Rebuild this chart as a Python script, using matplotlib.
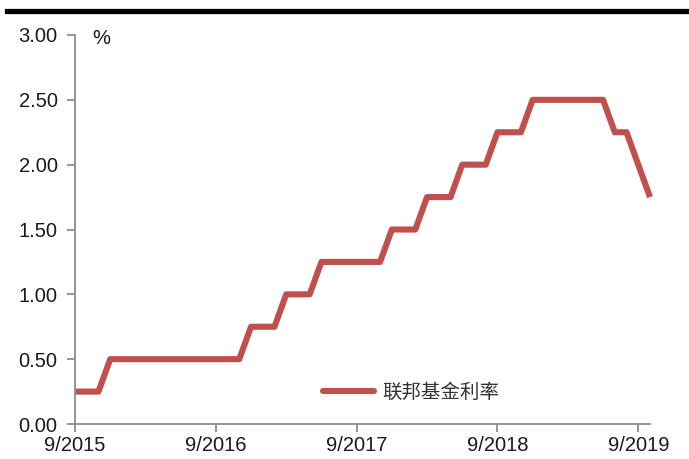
import matplotlib
matplotlib.use("Agg")
import matplotlib.pyplot as plt
from matplotlib.lines import Line2D

plt.rcParams['font.family'] = ['Liberation Sans', 'Noto Sans CJK SC', 'DejaVu Sans']

# Monthly federal funds rate (upper bound, %), 9/2015 - 10/2019
months = list(range(50))
rate = ([0.25] * 3 + [0.50] * 12 + [0.75] * 3 + [1.00] * 3 + [1.25] * 6 +
        [1.50] * 3 + [1.75] * 3 + [2.00] * 3 + [2.25] * 3 + [2.50] * 7 +
        [2.25] * 2 + [2.00] + [1.75])
tick_pos = [0, 12, 24, 36, 48]
tick_labels = ["9/2015", "9/2016", "9/2017", "9/2018", "9/2019"]
y_ticks = [0.0, 0.5, 1.0, 1.5, 2.0, 2.5, 3.0]
series_name = "联邦基金利率"

W, H = 689, 459
fig = plt.figure(figsize=(W / 100, H / 100), dpi=100)
ax = fig.add_axes([75 / W, 1 - 424 / H, (650 - 75) / W, (424 - 35) / H])

red = "#C0504D"
grey = "#8C8C8C"
txt = "#1a1a1a"
ax.plot(months, rate, color=red, lw=4.4, solid_joinstyle="round",
        solid_capstyle="butt", label=series_name, clip_on=False)

ax.set_xlim(0, 49)
ax.set_ylim(0, 3)
ax.set_xticks(tick_pos)
ax.set_xticklabels(tick_labels)
ax.set_yticks(y_ticks)
ax.set_yticklabels([f"{v:.2f}" for v in y_ticks])

for s in ("top", "right"):
    ax.spines[s].set_visible(False)
for s in ("left", "bottom"):
    ax.spines[s].set_color(grey)
    ax.spines[s].set_linewidth(1.3)
ax.tick_params(axis="both", direction="out", length=5.5, width=1.3,
               color=grey, labelsize=14.5, labelcolor=txt)
ax.tick_params(axis="x", pad=3)
ax.tick_params(axis="y", pad=7)

ax.text(92 / W, 1 - 38 / H, "%", transform=fig.transFigure,
        fontsize=14.5, color=txt, va="center", ha="left")

leg = ax.legend(loc="center left",
                bbox_to_anchor=((323 - 75) / 575, (424 - 392) / 389),
                frameon=False, borderpad=0, borderaxespad=0, handlelength=2.63,
                handletextpad=0.4,
                prop={"family": ["Noto Sans CJK SC"], "size": 14})
for t in leg.get_texts():
    t.set_color("#333333")
for h in leg.get_lines():
    h.set_solid_capstyle("round")

# heavy rule across the top of the figure
fig.add_artist(Line2D([7 / W, 1.0], [1 - 10.5 / H, 1 - 10.5 / H],
                      transform=fig.transFigure, color="black", lw=3.8))

fig.savefig("out.png", dpi=100)
